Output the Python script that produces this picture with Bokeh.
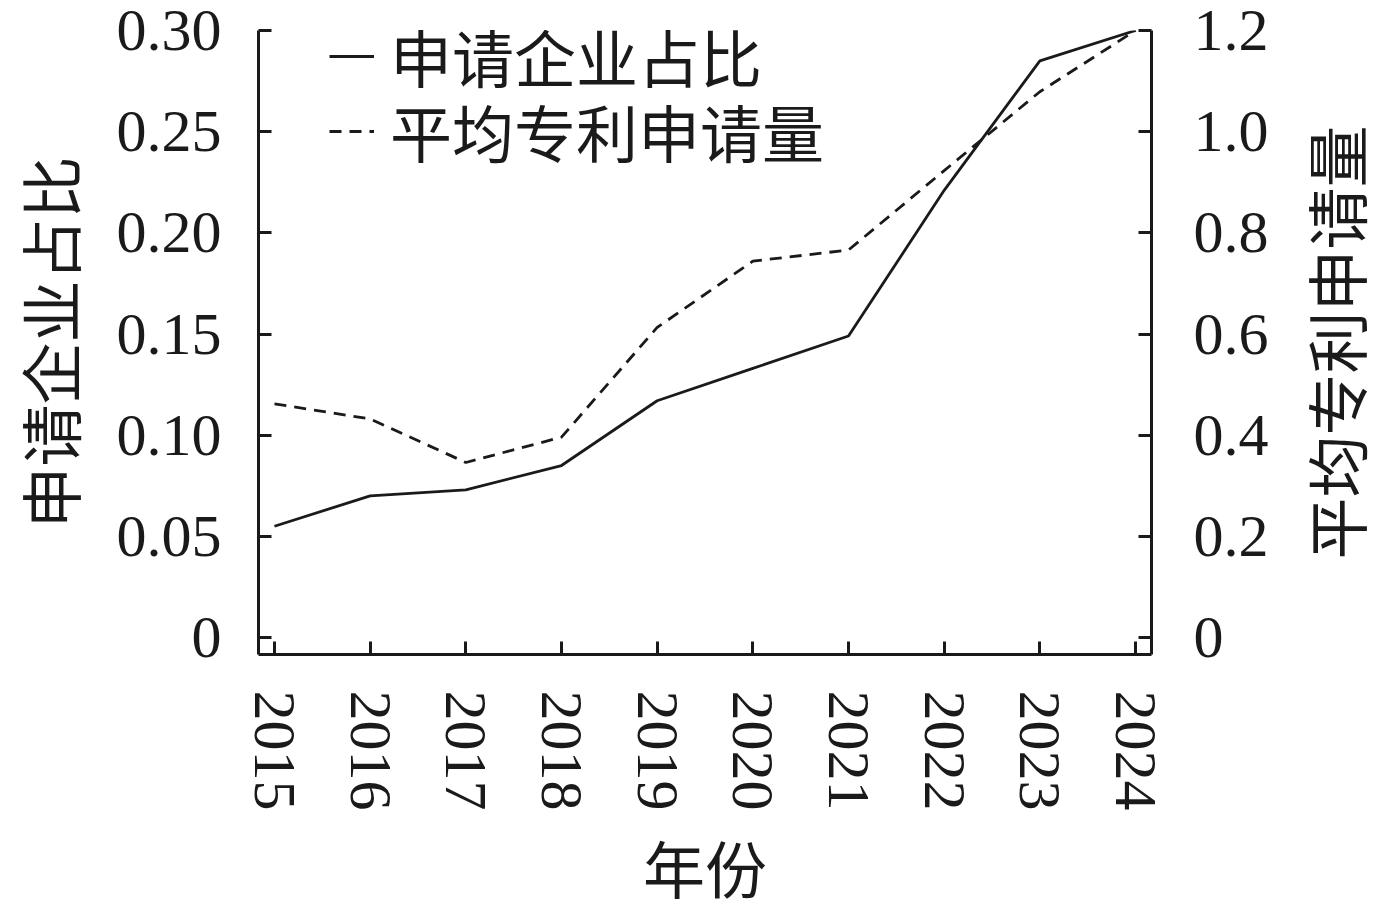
import math
from bokeh.plotting import figure
from bokeh.layouts import row
from bokeh.models import Range1d, LinearAxis, FixedTicker, Legend, LegendItem
from bokeh.embed import file_html
from bokeh.resources import INLINE

years = [2015, 2016, 2017, 2018, 2019, 2020, 2021, 2022, 2023, 2024]
share = [0.055, 0.070, 0.073, 0.085, 0.117, 0.133, 0.149, 0.221, 0.285, 0.300]
avg_patents = [0.462, 0.432, 0.346, 0.396, 0.613, 0.744, 0.766, 0.923, 1.079, 1.200]

left_ticks = [0, 0.05, 0.10, 0.15, 0.20, 0.25, 0.30]
left_labels = ["0", "0.05", "0.10", "0.15", "0.20", "0.25", "0.30"]
right_ticks = [0, 0.2, 0.4, 0.6, 0.8, 1.0, 1.2]
right_labels = ["0", "0.2", "0.4", "0.6", "0.8", "1.0", "1.2"]

name_share = "申请企业占比"
name_avg = "平均专利申请量"
x_title = "年份"

SERIF = "Liberation Serif"
CJK = "Noto Sans CJK SC"
INK = "#1a1a1a"
CJK_SIZE = "62px"

p = figure(frame_width=893, frame_height=624,
           min_border_left=257, min_border_right=135,
           min_border_top=30, min_border_bottom=255,
           x_range=Range1d(2014.833, 2024.167),
           y_range=Range1d(-0.0084, 0.30),
           output_backend="svg", toolbar_location=None)
p.outline_line_color = None
p.grid.visible = False
p.background_fill_color = "white"
p.border_fill_color = "white"

p.extra_y_ranges = {"right": Range1d(-0.0336, 1.2)}
raxis = LinearAxis(y_range_name="right")
p.add_layout(raxis, "right")

r1 = p.line(years, share, line_color=INK, line_width=2.8)
r2 = p.line(years, avg_patents, y_range_name="right", line_color=INK,
            line_width=2.8, line_dash="12 8")

for ax in [p.xaxis[0], p.yaxis[0], raxis]:
    ax.axis_line_color = INK
    ax.axis_line_width = 3
    ax.major_tick_line_color = INK
    ax.major_tick_line_width = 3
    ax.major_tick_in = 13
    ax.major_tick_out = 0
    ax.minor_tick_line_color = None
    ax.major_label_text_font = SERIF
    ax.major_label_text_font_size = "60px"
    ax.major_label_text_color = INK
    ax.axis_label_text_font = CJK
    ax.axis_label_text_font_size = CJK_SIZE
    ax.axis_label_text_font_style = "normal"
    ax.axis_label_text_color = INK

xa = p.xaxis[0]
xa.ticker = FixedTicker(ticks=years)
xa.major_label_orientation = "vertical"
xa.major_label_standoff = 36
xa.axis_label = x_title
xa.axis_label_standoff = 8

ya = p.yaxis[0]
ya.ticker = FixedTicker(ticks=left_ticks)
ya.major_label_overrides = {t: l for t, l in zip(left_ticks, left_labels)}
ya.major_label_standoff = 37
ya.axis_label = name_share
ya.axis_label_standoff = 20

raxis.ticker = FixedTicker(ticks=right_ticks)
raxis.major_label_overrides = {t: l for t, l in zip(right_ticks, right_labels)}
raxis.major_label_standoff = 42

legend_style = dict(orientation="vertical", border_line_color=None,
                    background_fill_alpha=0, padding=0, margin=0, spacing=0,
                    glyph_width=45, label_standoff=16,
                    label_text_font=CJK, label_text_font_size=CJK_SIZE,
                    label_text_color=INK)
leg1 = Legend(items=[LegendItem(label=name_share, renderers=[r1])],
              location=(71, 553), **legend_style)
leg2 = Legend(items=[LegendItem(label=name_avg, renderers=[r2])],
              location=(71, 478), **legend_style)
p.add_layout(leg1, "center")
p.add_layout(leg2, "center")

# narrow companion panel carrying the right-hand axis title (reads bottom-to-top)
p2 = figure(frame_width=1, frame_height=624,
            min_border_left=92, min_border_right=0,
            min_border_top=30, min_border_bottom=255,
            x_range=Range1d(0, 1), y_range=Range1d(0, 1),
            output_backend="svg", toolbar_location=None)
p2.outline_line_color = None
p2.grid.visible = False
p2.xaxis.visible = False
p2.border_fill_color = "white"
p2.background_fill_color = "white"
a2 = p2.yaxis[0]
a2.ticker = FixedTicker(ticks=[])
a2.axis_line_color = None
a2.major_tick_line_color = None
a2.minor_tick_line_color = None
a2.major_label_text_font_size = "0px"
a2.major_label_standoff = 0
a2.axis_label = name_avg
a2.axis_label_standoff = 0
a2.axis_label_text_font = CJK
a2.axis_label_text_font_size = CJK_SIZE
a2.axis_label_text_font_style = "normal"
a2.axis_label_text_color = INK

layout = row(p, p2, spacing=0)
open("out.html", "w").write(file_html(layout, INLINE))
